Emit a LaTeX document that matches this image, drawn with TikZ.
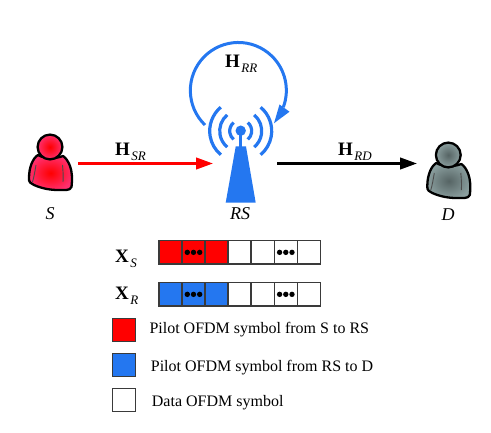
\documentclass[tikz,border=0pt]{standalone}
\usepackage{fontspec}
\setmainfont{Liberation Serif}
\usetikzlibrary{arrows.meta}
\definecolor{rsblue}{HTML}{2477F0}
\definecolor{cellgrey}{HTML}{3A3A3A}
\definecolor{pilotred}{HTML}{FF0000}
\definecolor{sedge}{HTML}{FF2F6E}
\definecolor{dcore}{HTML}{566464}
\definecolor{dedge}{HTML}{8A9E9E}
\tikzset{
  x=1pt,y=1pt,
  wave/.style={rsblue,line width=3.2pt,line cap=butt},
  linkred/.style={pilotred,line width=2.6pt,-{Triangle[length=17pt,width=11.5pt]}},
  linkblack/.style={black,line width=2.6pt,-{Triangle[length=17pt,width=11.5pt]}},
  cell/.style={draw=cellgrey,line width=1.2pt,minimum width=23pt,minimum height=23.3pt,inner sep=0pt,outer sep=0pt},
  legendbox/.style={draw=cellgrey,line width=1.2pt,minimum width=23.4pt,minimum height=23pt,inner sep=0pt},
  legendtext/.style={font=\fontsize{16}{18}\selectfont,anchor=base west,inner sep=0pt},
  endpoint/.style={font=\fontsize{18}{20}\selectfont\itshape,inner sep=0pt},
  chan/.style={font=\fontsize{19}{21}\selectfont,inner sep=0pt,anchor=base west},
  dot/.style={fill=black,circle,minimum size=5.4pt,inner sep=0pt},
}
\newcommand{\chanlabel}[2]{\textbf{#1}\kern1.5pt\raisebox{-5pt}{\fontsize{13}{14}\selectfont\itshape #2}}
\newcommand{\personfig}[4]{%
  \begin{scope}[shift={(#1,#2)},line width=2.3pt,line join=round]
    \path[draw=black,inner color=#3,outer color=#4]
      (-12,-8) .. controls (-17,-11) and (-21,-20) .. (-21,-31)
      .. controls (-21.5,-35) and (-19,-37) .. (-16,-38)
      .. controls (-8,-41.5) and (0,-43) .. (8,-43)
      .. controls (14,-43) and (20,-44) .. (21.5,-40)
      .. controls (22.5,-32) and (22,-24) .. (20,-19)
      .. controls (18,-14) and (16,-11) .. (13,-9)
      .. controls (5,-12) and (-5,-12) .. (-12,-8) -- cycle;
    \draw[line width=0.9pt,black!70] (-14,-18) .. controls (-15,-24) and (-16,-30) .. (-17.5,-35);
    \draw[line width=0.9pt,black!70] (12.5,-18) .. controls (13,-24) and (13.5,-29) .. (13,-35);
    \path[draw=black,inner color=#3,outer color=#4] (0,0) circle (12.4);
  \end{scope}}
\newcommand{\cellrow}[3]{%
  \foreach \k/\xx/\cc in {1/170.5/#3,2/193.5/#3,3/216.5/#3,4/239.5/white,5/262.8/white,6/285.8/white,7/308.8/white}{
    \node[cell,fill=\cc] (#1\k) at (\xx,#2) {};
  }
  \foreach \dx in {-6.2,0,6.2}{
    \node[dot] at ([xshift=\dx pt]#12.center) {};
    \node[dot] at ([xshift=\dx pt]#16.center) {};
  }
}
\begin{document}
\begin{tikzpicture}
\useasboundingbox (0,0) rectangle (491,432);
% people
\personfig{50}{285}{pilotred}{sedge}{}
\personfig{448.3}{277}{dcore}{dedge}{}
% relay antenna
\fill[rsblue] (235.7,285.5) -- (246,285.5) -- (255.7,229.3) -- (225.7,229.3) -- cycle;
\draw[rsblue,line width=3pt] (240.7,301) -- (240.7,285);
\fill[rsblue] (240.7,301.3) circle (5.2);
\foreach \r in {11,21,31}{
  \draw[wave] (240.7,301) ++(130:\r) arc (130:230:\r);
  \draw[wave] (240.7,301) ++(50:\r) arc (50:-50:\r);
}
% self-interference loop
\coordinate (loopstart) at (205,307);
\draw[rsblue,line width=3pt] (loopstart) arc (226:-20.4:48);
\fill[rsblue] (279.5,327.5) -- (289.5,320.3) -- (274,308.7) -- cycle;
% links
\coordinate (sout) at (78,268.5);
\coordinate (rsin) at (213,268.5);
\coordinate (rsout) at (277,268.5);
\coordinate (din) at (417,268.5);
\draw[linkred] (sout) -- (rsin);
\draw[linkblack] (rsout) -- (din);
\node[chan] (hsr) at (115,276) {\chanlabel{H}{SR}};
\node[chan] (hrd) at (338,276) {\chanlabel{H}{RD}};
\node[chan] (hrr) at (225,364) {\chanlabel{H}{RR}};
\node[endpoint] (S) at (50,218) {S};
\node[endpoint] (RS) at (240,218) {RS};
\node[endpoint] (D) at (448,217) {D};
% frames
\cellrow{a}{179.65}{pilotred}
\cellrow{b}{137.65}{rsblue}
\node[chan] (xs) at (115,169.3) {\chanlabel{X}{S}};
\node[chan] (xr) at (115,132) {\chanlabel{X}{R}};
% legend
\node[legendbox,fill=pilotred] (l1) at (124,101.7) {};
\node[legendbox,fill=rsblue] (l2) at (124,66.8) {};
\node[legendbox,fill=white] (l3) at (124,32) {};
\node[legendtext] (t1) at (149.3,99) {Pilot OFDM symbol from S to RS};
\node[legendtext] (t2) at (150.7,60.3) {Pilot OFDM symbol from RS to D};
\node[legendtext] (t3) at (151.7,25.3) {Data OFDM symbol};
\end{tikzpicture}
\end{document}
